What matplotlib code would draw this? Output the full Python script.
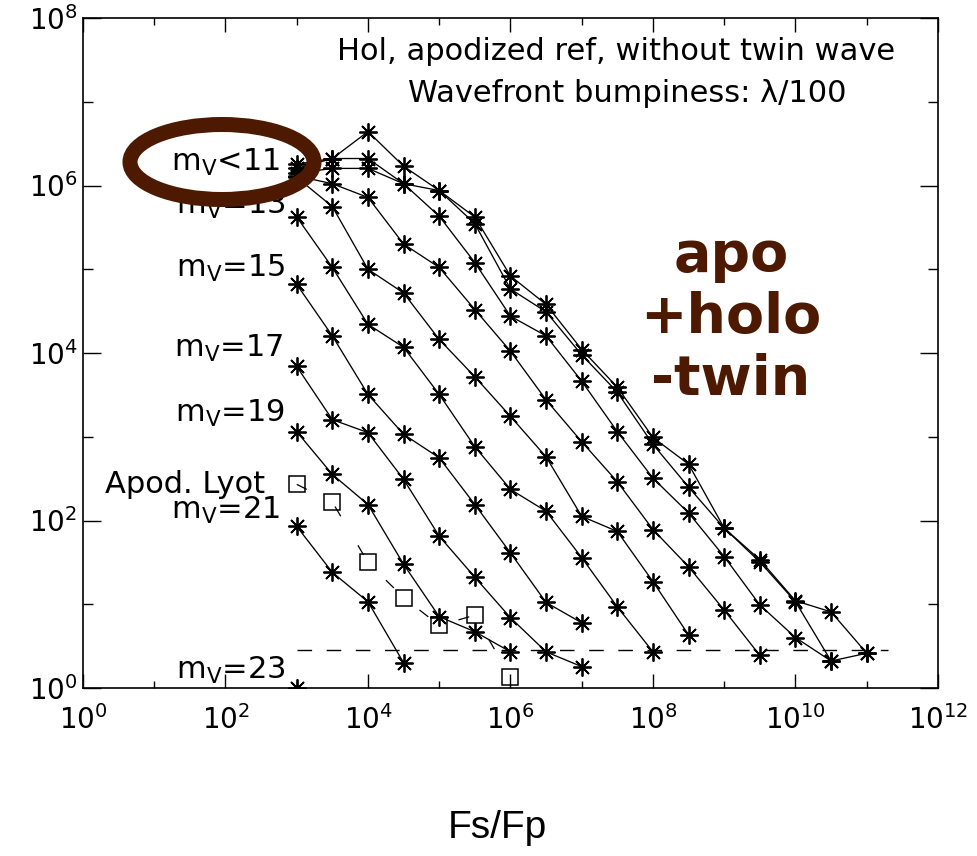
import matplotlib
matplotlib.use('Agg')
import matplotlib.pyplot as plt
from matplotlib.patches import Ellipse
from matplotlib.ticker import FixedLocator, FixedFormatter, NullFormatter

# ---------------- data ----------------
fs_fp = [1e3, 3.16e3, 1e4, 3.16e4, 1e5, 3.16e5, 1e6, 3.16e6, 1e7, 3.16e7,
         1e8, 3.16e8, 1e9, 3.16e9, 1e10, 3.16e10, 1e11]

bright_a = [1.8e6, 2.1e6, 4.4e6, 1.7e6, 8.7e5, 4.2e5, 8.3e4, 3.8e4, 1.1e4, 3.9e3,
            980, 470, 81, 34, 11, 8.1, 2.6]
bright_b = [1.6e6, 2.1e6, 2.1e6, 1.05e6, 8.7e5, 3.5e5, 5.8e4, 3.1e4, 9.5e3, 3.4e3,
            810, 250, 81, 32, 10.7, 2.1, 2.6]
bright_c = [1.4e6, 1.6e6, 1.6e6, 1.05e6, 4.3e5, 1.2e5, 2.75e4, 1.6e4, 4.6e3, 1.15e3,
            320, 123, 37, 9.8, 4.0, 2.1]
bright_d = [1.3e6, 1.05e6, 7.2e5, 2.0e5, 1.05e5, 3.3e4, 1.05e4, 2.75e3, 870, 290,
            78, 28, 8.5, 2.45]
bright_e = [1.25e6, 5.6e5, 1.0e5, 5.2e4, 1.45e4, 5.2e3, 1.75e3, 575, 112, 74, 18.6, 4.3]
mv13 = [4.2e5, 1.05e5, 2.2e4, 1.17e4, 3.2e3, 760, 235, 129, 36, 9.3, 2.7]
mv15 = [6.6e4, 1.6e4, 3.2e3, 1.07e3, 560, 155, 41, 10.5, 6.0]
mv17 = [6.9e3, 1.6e3, 1.12e3, 310, 65, 21, 6.9, 2.7, 1.8]
mv19 = [1.15e3, 355, 155, 30, 7.1, 4.7, 2.7]
mv21 = [85, 24, 10.7, 2.0]
mv23 = [1.0]

apod_lyot = [270, 166, 31.6, 12.0, 5.6, 7.4, 1.35]

floor_x = [1e3, 2e11]
floor_y = [2.85, 2.85]

xtick_exp = [0, 2, 4, 6, 8, 10, 12]
ytick_exp = [0, 2, 4, 6, 8]

curve_labels = ['m$_\\mathregular{V}$<11', 'm$_\\mathregular{V}$=13', 'm$_\\mathregular{V}$=15',
                'm$_\\mathregular{V}$=17', 'm$_\\mathregular{V}$=19', 'm$_\\mathregular{V}$=21',
                'm$_\\mathregular{V}$=23']

title1 = 'Hol, apodized ref, without twin wave'
title2 = 'Wavefront bumpiness: λ/100'
overlay = 'apo\n+holo\n-twin'
brown = '#4d1900'

# ---------------- figure ----------------
W, H = 978, 856
fig = plt.figure(figsize=(W / 100, H / 100), dpi=100)
plt.rcParams['font.family'] = ['DejaVu Sans']
plt.rcParams['mathtext.default'] = 'regular'

ax = fig.add_axes([83 / W, 1 - 688 / H, (938 - 83) / W, (688 - 18) / H])
ax.set_xscale('log')
ax.set_yscale('log')
ax.set_xlim(1, 1e12)
ax.set_ylim(1, 1e8)

star = dict(color='black', lw=0.95, marker=(8, 2, 0), ms=13, mew=1.3)
for ys in [bright_a, bright_b, bright_c, bright_d, bright_e,
           mv13, mv15, mv17, mv19, mv21, mv23]:
    ax.plot(fs_fp[:len(ys)], ys, **star)

ax.plot(fs_fp[:len(apod_lyot)], apod_lyot, color='black', lw=0.9,
        linestyle=(0, (9, 27)), marker='s', ms=11, mfc='none', mec='black', mew=1.1)
ax.plot(floor_x, floor_y, color='black', lw=1.0, linestyle=(0, (10.5, 10.5)))

# ticks
ax.xaxis.set_major_locator(FixedLocator([10.0 ** e for e in xtick_exp]))
ax.xaxis.set_minor_locator(FixedLocator([10.0 ** e for e in range(1, 12, 2)]))
ax.xaxis.set_major_formatter(FixedFormatter(['$10^{%d}$' % e for e in xtick_exp]))
ax.xaxis.set_minor_formatter(NullFormatter())
ax.yaxis.set_major_locator(FixedLocator([10.0 ** e for e in ytick_exp]))
ax.yaxis.set_minor_locator(FixedLocator([10.0 ** e for e in range(1, 8, 2)]))
ax.yaxis.set_major_formatter(FixedFormatter(['$10^{%d}$' % e for e in ytick_exp]))
ax.yaxis.set_minor_formatter(NullFormatter())
ax.tick_params(which='both', direction='in', top=True, right=True, width=1.0,
               labelsize=20, colors='black')
ax.tick_params(axis='x', which='major', length=10, pad=12)
ax.tick_params(axis='x', which='minor', length=5)
ax.tick_params(axis='y', which='major', length=13, pad=4)
ax.tick_params(axis='y', which='minor', length=7)
for s in ax.spines.values():
    s.set_linewidth(1.2)

# texts
def fx(px):
    return px / W
def fy(py):
    return 1 - py / H

fig.text(fx(895), fy(52), title1, ha='right', va='center', fontsize=22)
fig.text(fx(847), fy(93), title2, ha='right', va='center', fontsize=22)

label_pos = [(280, 162), (285, 205), (285, 268), (283, 348), (285, 413), (280, 510), (285, 670)]
for lab, (px, py) in zip(curve_labels, label_pos):
    fig.text(fx(px), fy(py), lab, ha='right', va='center', fontsize=22)
fig.text(fx(105), fy(485), 'Apod. Lyot', ha='left', va='center', fontsize=22)

fig.text(fx(731), fy(318), overlay, ha='center', va='center', fontsize=40,
         fontweight='bold', color=brown, linespacing=1.2, multialignment='center')

fig.text(fx(497), fy(828), 'Fs/Fp', ha='center', va='center', fontsize=28,
         family=['Liberation Sans', 'DejaVu Sans'])

ell = Ellipse((fx(222), fy(162)), width=184 / W, height=75 / H,
              transform=fig.transFigure, fill=False, edgecolor=brown, linewidth=10.8,
              zorder=10)
fig.add_artist(ell)

fig.savefig('out.png', dpi=100)
